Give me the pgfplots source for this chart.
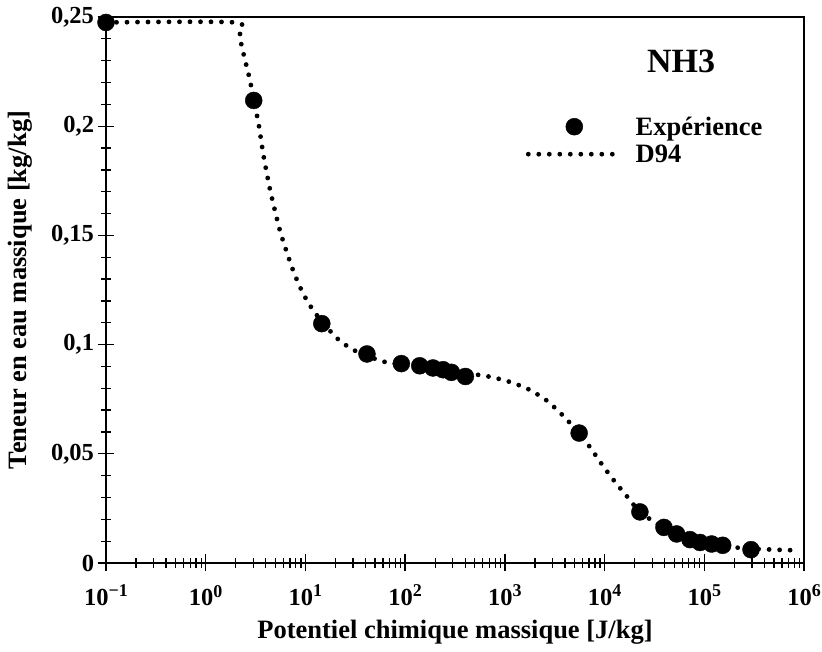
\documentclass[border=0pt]{standalone}
\usepackage{fontspec}
\setmainfont{Liberation Serif}
\usepackage{pgfplots}
\pgfplotsset{compat=1.18}
\newcommand{\dec}[1]{10\raisebox{8.5pt}{\fontsize{18}{18}\selectfont #1}}

\pgfplotstableread{
x y
0.1 0.2475
2.0 0.2475
2.18 0.2411
2.45 0.2312
2.77 0.2213
3.03 0.2118
3.38 0.2015
3.80 0.1865
4.39 0.1715
4.93 0.1616
5.58 0.1518
6.51 0.1422
7.72 0.1326
9.5 0.1233
12.4 0.1147
20.4 0.1032
31.1 0.0973
63.3 0.0920
150 0.0897
400 0.0868
618 0.0858
1020 0.0835
1650 0.0800
2560 0.0748
3750 0.0679
5560 0.0595
7230 0.0527
9800 0.0440
13200 0.0362
15600 0.0323
18400 0.0282
22600 0.0234
32700 0.0183
50000 0.0135
80000 0.0103
120000 0.0088
228000 0.0069
500000 0.0061
850000 0.0058
}\dfour

\pgfplotstableread{
x y
0.1 0.2475
3.03 0.2118
14.6 0.1096
41.4 0.0957
91.6 0.0913
140 0.0903
190 0.0893
240 0.0885
291 0.0873
402 0.0854
5560 0.0595
22600 0.0234
39400 0.0163
52800 0.0133
71900 0.0107
90600 0.0094
118600 0.0087
153000 0.0081
294000 0.0061
}\expe

\begin{document}
\begin{tikzpicture}
\begin{axis}[
  scale only axis, width=698pt, height=546pt,
  xmode=log, xmin=0.1, xmax=1e6, ymin=0, ymax=0.25,
  xtick={0.1,1,10,100,1000,10000,100000,1000000},
  xticklabels={\dec{−1},\dec{0},\dec{1},\dec{2},\dec{3},\dec{4},\dec{5},\dec{6}},
  ytick={0,0.05,0.1,0.15,0.2,0.25},
  yticklabels={0,{0,05},{0,1},{0,15},{0,2},{0,25}},
  minor y tick num=4,
  xtick pos=bottom, ytick pos=left,
  tick align=center,
  major tick length=17pt, minor tick length=10pt,
  every tick/.style={black, line width=1.3pt},
  axis line style={line width=1.8pt},
  ticklabel style={font=\fontsize{24.5}{28}\selectfont\bfseries},
  xticklabel style={yshift=-10pt},
  label style={font=\fontsize{26.5}{30}\selectfont\bfseries},
  xlabel={Potentiel chimique massique [J/kg]},
  ylabel={Teneur en eau massique [kg/kg]},
  xlabel style={yshift=-8pt},
  ylabel style={yshift=12pt},
  clip=false,
  legend cell align=left,
  reverse legend,
  legend style={draw=none, fill=none, at={(0.597,0.825)}, anchor=north west,
    font=\fontsize{26.5}{28}\selectfont\bfseries, row sep=4pt, column sep=10pt},
  legend image code/.code={\draw[mark repeat=2,mark phase=2,#1]
    plot coordinates {(0pt,0pt) (46pt,0pt) (93pt,0pt)};},
]
\addplot[black, line width=4.8pt, line cap=round, dash pattern=on 0pt off 10.5pt,
  smooth, tension=0.4] table {\dfour};
\addplot[only marks, mark=*, mark size=8.5pt, black] table {\expe};
\legend{D94, Expérience}
\node[font=\fontsize{34}{38}\selectfont\bfseries] at (rel axis cs:0.824,0.918) {NH3};
\end{axis}
\pgfresetboundingbox
\path (-106pt,-89pt) rectangle (716pt,563pt);
\end{tikzpicture}
\end{document}
